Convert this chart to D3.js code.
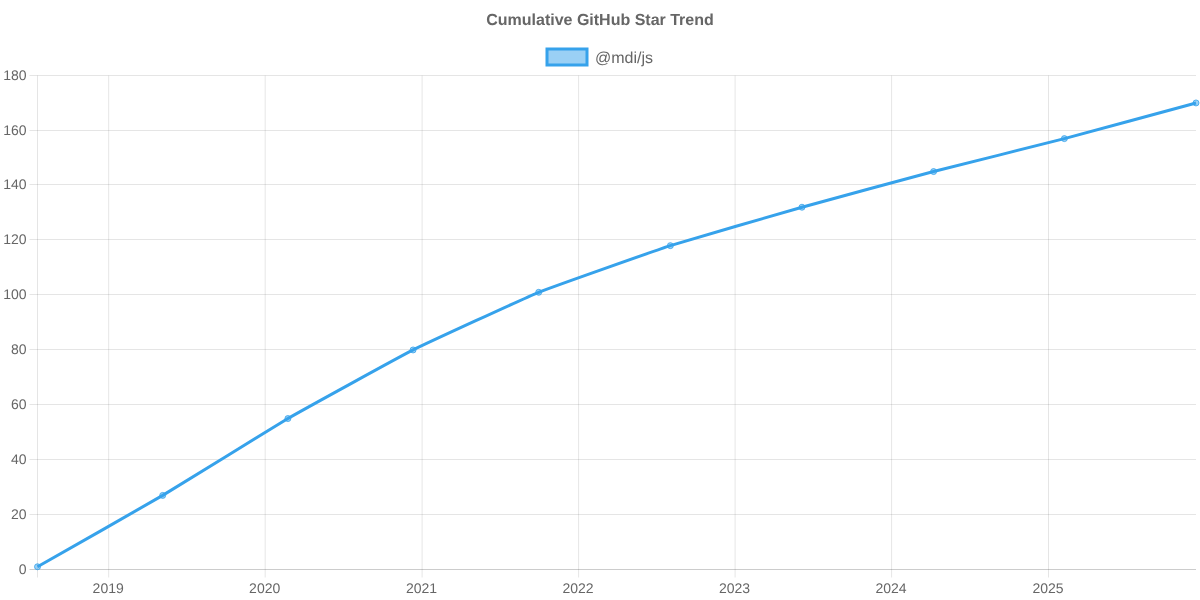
<!DOCTYPE html>
<html>
<head>
<meta charset="utf-8">
<script src="https://cdn.jsdelivr.net/npm/d3@7"></script>
<style>
    html, body { margin: 0; padding: 0; background: #fff; }
    svg { display: block; will-change: transform; }
    text { font-family: "Liberation Sans", Arial, sans-serif; fill: #666; text-rendering: geometricPrecision; }
</style>
</head>
<body>
<div id="chart"></div>
<script>
var dates = ['2018-07-19', '2019-05-07', '2020-02-23', '2020-12-11', '2021-09-30',
    '2022-08-03', '2023-06-06', '2024-04-08', '2025-02-07', '2025-12-11'];
var stars = [1, 27, 55, 80, 101, 118, 132, 145, 157, 170];
var yTicks = [0, 20, 40, 60, 80, 100, 120, 140, 160, 180];
var xTicks = [2019, 2020, 2021, 2022, 2023, 2024, 2025];
var seriesName = '@mdi/js';
var chartTitle = 'Cumulative GitHub Star Trend';

var svgWidth = 1200, svgHeight = 600;
var margin = {top: 75.5, right: 4, bottom: 30.5, left: 37.5};
var width = svgWidth - margin.left - margin.right;
var height = svgHeight - margin.top - margin.bottom;

var parseDate = d3.utcParse('%Y-%m-%d');
var data = dates.map(function(d, i) { return {date: parseDate(d), value: stars[i]}; });

var svg = d3.select('#chart').append('svg')
    .attr('width', svgWidth).attr('height', svgHeight);

var g = svg.append('g')
    .attr('transform', 'translate(' + margin.left + ' ' + margin.top + ')');

var x = d3.scaleUtc()
    .domain(d3.extent(data, function(d) { return d.date; }))
    .range([0, width]);

var y = d3.scaleLinear()
    .domain([0, 180])
    .range([height, 0]);

// X Axis
var xAxis = g.append('g')
    .attr('class', 'x axis')
    .attr('transform', 'translate(0 ' + height + ')')
    .call(d3.axisBottom(x)
        .offset(0)
        .tickValues(xTicks.map(function(d) { return new Date(Date.UTC(d, 0, 1)); }))
        .tickFormat(d3.utcFormat('%Y')));
xAxis.select('.domain').remove();
xAxis.selectAll('.tick line')
    .attr('y1', 8).attr('y2', -height)
    .attr('stroke', 'rgba(0,0,0,0.1)');
xAxis.selectAll('.tick text')
    .attr('font-size', '14px').attr('x', -0.5).attr('y', 23.5).attr('dy', 0)
    .style('fill', '#666');

// Y Axis
var yAxis = g.append('g')
    .attr('class', 'y axis')
    .call(d3.axisLeft(y).offset(0).tickValues(yTicks).tickSize(8).tickPadding(3));
yAxis.select('.domain').remove();
yAxis.selectAll('.tick')
    // snap to the pixel grid so the lines stay crisp
    .attr('transform', function(d) { return 'translate(0 ' + Math.floor(y(d) + 0.2) + ')'; });
yAxis.selectAll('.tick line')
    .attr('x1', -8).attr('x2', width)
    .attr('stroke', function(d) { return d === 0 ? 'rgba(0,0,0,0.2)' : 'rgba(0,0,0,0.1)'; });
yAxis.selectAll('.tick text')
    .attr('font-size', '14px')
    .style('fill', '#666');

// left edge of plot
g.append('line')
    .attr('x1', 0).attr('x2', 0)
    .attr('y1', 0).attr('y2', height + 8)
    .attr('stroke', 'rgba(0,0,0,0.1)');

// Line
var line = d3.line()
    .x(function(d) { return x(d.date); })
    .y(function(d) { return y(d.value); })
    .curve(d3.curveCardinal.tension(0.7));

g.append('path')
    .datum(data)
    .attr('fill', 'none')
    .attr('stroke', '#36a2eb')
    .attr('stroke-width', 3)
    .attr('d', line);

g.selectAll('circle.point')
    .data(data).enter().append('circle')
    .attr('class', 'point')
    .attr('cx', function(d) { return x(d.date); })
    .attr('cy', function(d) { return y(d.value); })
    .attr('r', 3)
    .attr('fill', 'rgba(54,162,235,0.5)')
    .attr('stroke', 'rgba(54,162,235,0.8)')
    .attr('stroke-width', 1);

// Title
svg.append('text')
    .attr('x', 600).attr('y', 25)
    .attr('text-anchor', 'middle')
    .attr('font-size', '16px')
    .attr('font-weight', 'bold')
    .text(chartTitle);

// Legend
svg.append('rect')
    .attr('x', 547).attr('y', 49)
    .attr('width', 40).attr('height', 16)
    .attr('fill', 'rgba(54,162,235,0.5)')
    .attr('stroke', '#36a2eb')
    .attr('stroke-width', 3);

svg.append('text')
    .attr('x', 595).attr('y', 63)
    .attr('font-size', '16px')
    .text(seriesName);
</script>
</body>
</html>
